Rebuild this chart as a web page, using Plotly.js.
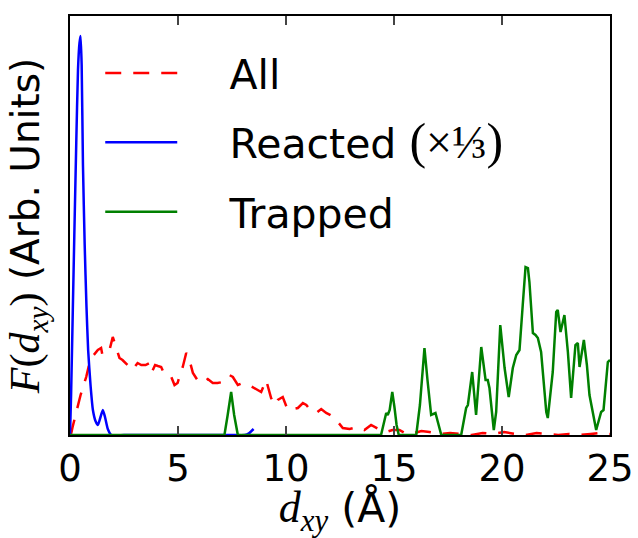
<!DOCTYPE html>
<html>
<head>
<meta charset="utf-8">
<script src="https://cdn.plot.ly/plotly-3.0.1.min.js"></script>
<style>html,body{margin:0;padding:0;background:#fff;}</style>
</head>
<body>
<div id="chart" style="width:638px;height:538px;"></div>
<script>
// d_xy (Å) and F(d_xy) in arbitrary units
const allX = [0, 0.06, 0.12, 0.35, 0.49, 0.75, 0.9, 1.1, 1.29, 1.44, 1.5, 1.64, 1.83, 1.98, 2.14, 2.29, 2.43, 2.66, 2.89, 3.13, 3.3, 3.5, 3.68, 3.79, 3.94, 4.07, 4.22, 4.38, 4.51, 4.69, 4.84, 4.98, 5.12, 5.22, 5.38, 5.46, 5.53, 5.69, 5.9, 6.15, 6.38, 6.61, 6.83, 7.07, 7.38, 7.54, 7.77, 8.0, 8.28, 8.54, 8.85, 9.08, 9.19, 9.31, 9.47, 9.62, 9.85, 10.08, 10.3, 10.55, 10.78, 10.94, 11.13, 11.4, 11.63, 11.86, 12.06, 12.25, 12.63, 12.94, 13.32, 13.63, 13.94, 14.28, 14.64, 14.93, 15.25, 15.58, 15.95, 16.27, 16.64, 17.1, 17.6, 18.1, 18.6, 19.1, 19.6, 20.1, 20.6, 21.1, 21.6, 22.1, 22.6, 23.1, 23.6, 24.1, 24.6, 25];
const allY = [0, 2, 8, 27, 40, 58, 72, 80, 85, 87, 80, 82, 85, 98, 87, 77, 75, 70, 65, 72, 70, 70, 72, 63, 70, 69, 68, 60, 59, 58, 50, 52, 62, 68, 82, 80, 75, 62, 55, 52, 56, 52, 52, 53, 60, 58, 50, 52, 50, 47, 43, 55, 45, 37, 30, 35, 38, 25, 26, 27, 32, 30, 25, 22, 26, 22, 20, 17, 7, 6, 8, 5, 10, 6, 3, 5, 5, 1, 2, 4, 3, 1, 2, 1, 0, 2, 1, 3, 1, 0, 2, 1, 0, 1, 0, 1, 2, 1];

const reactedX = [0, 0.05, 0.13, 0.2, 0.29, 0.37, 0.44, 0.49, 0.54, 0.6, 0.68, 0.76, 0.84, 0.95, 1.06, 1.18, 1.29, 1.4, 1.52, 1.62, 1.75, 1.91, 2.5, 3.5, 4.5, 5.5, 6.5, 7.5, 8.1, 8.3, 8.5];
const reactedY = [0, 40, 125, 200, 292, 365, 392, 399, 370, 270, 190, 130, 85, 50, 25, 14, 10, 17, 25, 18, 6, 0, 0, 0, 0, 0, 0, 0, 0, 2, 6];

const trappedX = [0, 7.0, 7.15, 7.3, 7.46, 7.6, 7.77, 8.5, 10, 12, 14.0, 14.4, 14.64, 14.71, 14.8, 14.92, 15.02, 15.12, 15.22, 15.6, 16.03, 16.2, 16.41, 16.55, 16.72, 16.92, 17.05, 17.19, 17.6, 18.11, 18.34, 18.42, 18.62, 18.8, 19.04, 19.24, 19.34, 19.42, 19.62, 19.73, 19.92, 20.12, 20.31, 20.5, 20.66, 20.81, 20.96, 21.09, 21.2, 21.27, 21.43, 21.55, 21.66, 21.81, 22.05, 22.12, 22.35, 22.51, 22.58, 22.71, 22.89, 23.05, 23.2, 23.4, 23.51, 23.59, 23.79, 23.93, 24.05, 24.36, 24.59, 24.7, 24.9, 25];
const trappedY = [0, 0, 0, 20, 43, 20, 0, 0, 0, 0, 0, 0, 22, 20, 25, 43, 28, 10, 0, 0, 0, 30, 87, 55, 20, 22, 10, 0, 0, 0, 27, 30, 63, 20, 88, 55, 55, 47, 5, 23, 110, 67, 38, 67, 80, 85, 130, 168, 167, 153, 102, 100, 97, 83, 23, 17, 63, 123, 125, 103, 120, 83, 37, 90, 92, 68, 95, 70, 40, 5, 23, 25, 73, 75];

const xTicks = [0, 5, 10, 15, 20, 25];
const PAD = '\u00a0\u00a0\u00a0\u2009';
const seriesNames = [PAD + 'All',
  PAD + 'Reacted <span style="font-family:Liberation Serif;font-size:50px">(</span><span style="font-family:Liberation Serif;font-size:46px">×⅓</span><span style="font-family:Liberation Serif;font-size:50px">)</span>',
  PAD + 'Trapped'];

const traces = [
  {x: allX, y: allY, name: seriesNames[0], legendgroup: 'a', mode: 'lines',
   line: {color: '#ff0000', width: 2.5, dash: '16px,12px'}},
  {x: reactedX, y: reactedY, name: seriesNames[1], legendgroup: 'b', mode: 'lines',
   line: {color: '#0000ff', width: 2.5, shape: 'spline', smoothing: 0.5}},
  {x: trappedX, y: trappedY, name: seriesNames[2], legendgroup: 'c', mode: 'lines',
   line: {color: '#008000', width: 2.5}}
];

const layout = {
  width: 638, height: 538,
  margin: {l: 70, r: 28, t: 16, b: 103},
  paper_bgcolor: '#ffffff', plot_bgcolor: '#ffffff',
  font: {family: 'DejaVu Sans', color: '#000'},
  showlegend: true,
  legend: {x: 0.056, y: 0.943, xanchor: 'left', yanchor: 'top',
           bgcolor: 'rgba(0,0,0,0)', borderwidth: 0,
           font: {family: 'DejaVu Sans', size: 41, color: '#000'},
           itemwidth: 72, tracegroupgap: 13},
  xaxis: {
    range: [0, 25], tickvals: xTicks, ticktext: xTicks.map(String),
    ticks: 'inside', ticklen: 9, tickwidth: 1.5, tickcolor: '#444',
    showline: true, linecolor: '#000', linewidth: 2, mirror: 'allticks',
    showgrid: false, zeroline: false,
    tickfont: {family: 'DejaVu Sans', size: 37, color: '#000'},
    title: {text: '<span style="font-family:Liberation Serif;font-size:44px"><i>d</i><sub><i>xy</i></sub></span> (Å)',
            font: {family: 'DejaVu Sans', size: 41, color: '#000'}, standoff: 6}
  },
  yaxis: {
    range: [0, 419], showticklabels: false, ticks: '',
    showline: true, linecolor: '#000', linewidth: 2, mirror: true,
    showgrid: false, zeroline: false,
    title: {text: '<span style="font-family:Liberation Serif;font-size:42px"><i>F</i>(<i>d</i><sub><i>xy</i></sub>)</span> (Arb. Units)',
            font: {family: 'DejaVu Sans', size: 39, color: '#000'}, standoff: 16}
  }
};

Plotly.newPlot('chart', traces, layout, {displayModeBar: false, staticPlot: true});
</script>
</body>
</html>
